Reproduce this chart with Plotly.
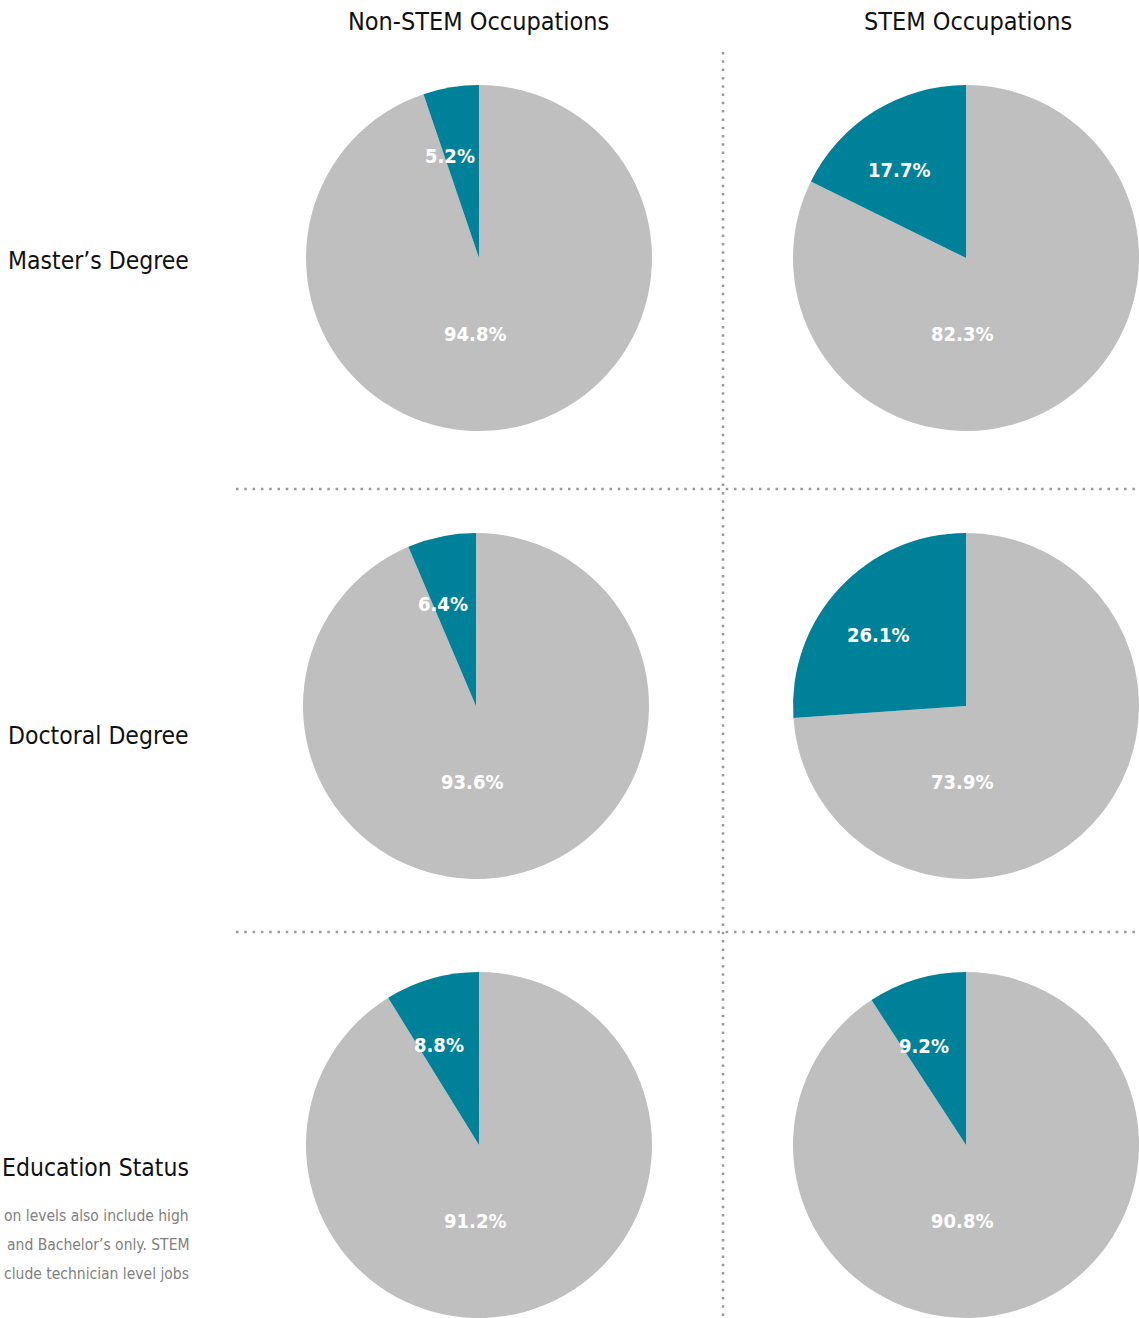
import math
import plotly.graph_objects as go

W, H = 1139, 1318

# data
columns = ["Non-STEM Occupations", "STEM Occupations"]
rows = ["Master\u2019s Degree", "Doctoral Degree", "Education Status"]
stem_share = [[5.2, 17.7], [6.4, 26.1], [8.8, 9.2]]     # teal slice, %
other_share = [[94.8, 82.3], [93.6, 73.9], [91.2, 90.8]]  # gray slice, %
note_lines = ["on levels also include high",
              "and Bachelor\u2019s only. STEM",
              "clude technician level jobs"]

TEAL = "#00819A"
GRAY = "#BFBFBF"
FONT = "Liberation Sans Narrow, DejaVu Sans Condensed, sans-serif"

# pie centres in px (layout)
col_cx = [[479, 966], [476, 966], [479, 966]]
row_cy = [258, 706, 1145]
R = 173


def px(x, y):
    return x / W, 1 - y / H


fig = go.Figure()
annotations = []


def note(x, y, text, xanchor="center", **kw):
    x, y = px(x, y)
    annotations.append(dict(x=x, y=y, xref="paper", yref="paper", text=text,
                            xanchor=xanchor, yanchor="middle",
                            showarrow=False, **kw))


for i in range(3):
    for j in range(2):
        cx, cy = col_cx[i][j], row_cy[i]
        # gray first going clockwise -> teal ends up left of 12 o'clock
        fig.add_trace(go.Pie(
            values=[other_share[i][j], stem_share[i][j]],
            labels=["Other", "STEM degree"],
            marker=dict(colors=[GRAY, TEAL], line=dict(width=0)),
            sort=False, direction="clockwise", rotation=0,
            textinfo="none", showlegend=False,
            domain=dict(x=[max(0, (cx - R) / W), min(1, (cx + R) / W)],
                        y=[max(0, 1 - (cy + R) / H), min(1, 1 - (cy - R) / H)]),
        ))
        # labels placed from the slice angle
        th = math.pi * stem_share[i][j] / 100
        tx = cx - 0.6 * R * math.sin(th) - 12
        ty = cy - 0.6 * R * math.cos(th)
        note(tx, ty, "<b>%.1f%%</b>" % stem_share[i][j],
             font=dict(color="white", size=20))
        note(cx - 4, cy + 0.44 * R, "<b>%.1f%%</b>" % other_share[i][j],
             font=dict(color="white", size=20))

# column titles
for j, t in enumerate(columns):
    note([478, 968][j], 22, t, font=dict(size=25, color="#111"))

# row titles
for i, t in enumerate(rows):
    note(191, [260, 735, 1167][i], t, xanchor="right",
         font=dict(size=24.5, color="#111"))

for k, t in enumerate(note_lines):
    note(191, 1216 + 29 * k, t, xanchor="right",
         font=dict(size=15.5, color="#808080"))

dot = dict(color="#999999", width=2.5, dash="2.5px,5.8px")
shapes = [
    dict(type="line", xref="paper", yref="paper", x0=px(236, 0)[0], x1=1,
         y0=px(0, 489)[1], y1=px(0, 489)[1], line=dot),
    dict(type="line", xref="paper", yref="paper", x0=px(236, 0)[0], x1=1,
         y0=px(0, 932)[1], y1=px(0, 932)[1], line=dot),
    dict(type="line", xref="paper", yref="paper", x0=px(723, 0)[0], x1=px(723, 0)[0],
         y0=px(0, 52)[1], y1=0, line=dot),
]

fig.update_layout(
    width=W, height=H,
    margin=dict(l=0, r=0, t=0, b=0),
    paper_bgcolor="white", plot_bgcolor="white",
    font=dict(family=FONT),
    annotations=annotations,
    shapes=shapes,
)

fig.write_html("out.html", config={"displayModeBar": False},
               post_script="document.body.style.margin='0';")
